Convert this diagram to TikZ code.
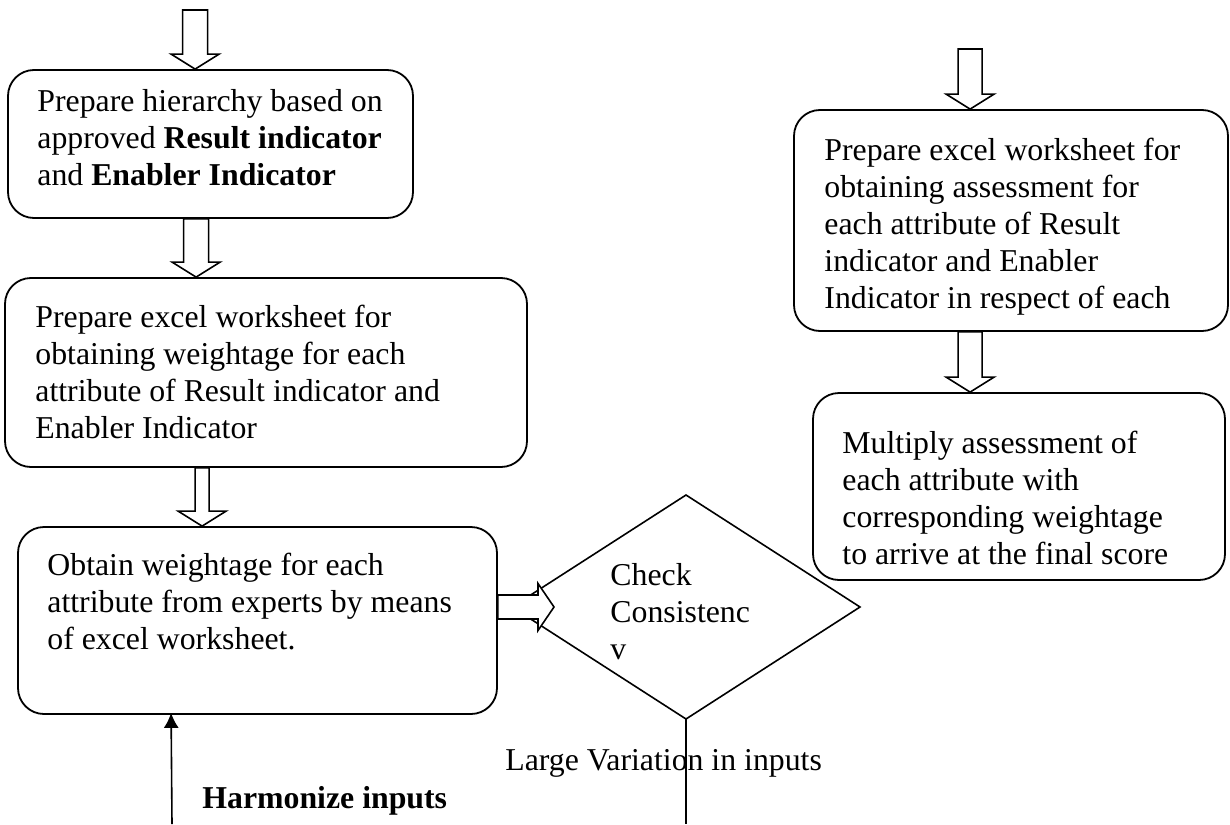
\documentclass[tikz,border=0pt]{standalone}
\usepackage{fontspec}
\setmainfont{Liberation Serif}
\usetikzlibrary{shapes.geometric,arrows.meta,calc,fit}

% hollow block arrows: shaft half width, top, tip
\newcommand\hollowdown[3]{%
  \draw[hollow] let \p1=(#2), \p2=(#3) in
    (\x2-#1,\y1) -- (\x2-#1,\y2+7.5pt) -- (\x2-12pt,\y2+7.5pt) -- (\x2,\y2)
    -- (\x2+12pt,\y2+7.5pt) -- (\x2+#1,\y2+7.5pt) -- (\x2+#1,\y1) -- cycle;}
\newcommand\hollowright[2]{%
  \draw[hollow] let \p1=(#1), \p2=(#2) in
    (\x1,\y2+6pt) -- (\x2-8pt,\y2+6pt) -- (\x2-8pt,\y2+11.75pt) -- (\x2,\y2)
    -- (\x2-8pt,\y2-11.75pt) -- (\x2-8pt,\y2-6pt) -- (\x1,\y2-6pt) -- cycle;}

\begin{document}
\begin{tikzpicture}[x=0.5pt,y=-0.5pt,
    flowbox/.style={draw,line width=0.9pt,rounded corners=13pt,inner sep=0pt},
    txt/.style={anchor=north west,align=left,inner sep=0pt,font=\fontsize{15.9}{18.5}\selectfont},
    hollow/.style={draw,fill=white,line width=0.8pt,line join=miter}]
  \useasboundingbox (0,0) rectangle (1230,824);

  % left column
  \node[flowbox,fit={(8,70) (413,218)}] (hier) {};
  \node[txt] (hier-t) at (37,89) {Prepare hierarchy based on\\approved \textbf{Result indicator}\\and \textbf{Enabler Indicator}};
  \node[flowbox,fit={(5,278) (527,467)}] (wsheet) {};
  \node[txt] (wsheet-t) at (35,305) {Prepare excel worksheet for\\obtaining weightage for each\\attribute of Result indicator and\\Enabler Indicator};
  \node[flowbox,fit={(18,527) (497,714)}] (obtain) {};
  \node[txt] (obtain-t) at (47,553) {Obtain weightage for each\\attribute from experts by means\\of excel worksheet.};

  % decision
  \node[diamond,draw,line width=0.8pt,minimum width=174pt,minimum height=112pt,inner sep=0pt,outer sep=0pt] (check) at (686,607) {};
  \node[txt] (check-t) at (610,563) {Check\\Consistenc\\v};

  % right column
  \node[flowbox,fit={(794,110) (1228,331)}] (assess) {};
  \node[txt] (assess-t) at (824,138) {Prepare excel worksheet for\\obtaining assessment for\\each attribute of Result\\indicator and Enabler\\Indicator in respect of each};
  \node[flowbox,fit={(813,393) (1225,580)}] (multiply) {};
  \node[txt] (multiply-t) at (842,431) {Multiply assessment of\\each attribute with\\corresponding weightage\\to arrive at the final score};

  \coordinate (startL) at (196,10);
  \coordinate (startR) at (971,49);
  \coordinate (bottomL) at (172,824);
  \coordinate (bottomR) at (686,824);

  \hollowdown{6.25pt}{startL}{$(hier.north west)+(188,0)$}
  \hollowdown{6.25pt}{$(hier.south west)+(189,0)$}{$(wsheet.north west)+(192,0)$}
  \hollowdown{3.5pt}{$(wsheet.south west)+(198,0)$}{$(obtain.north west)+(185,0)$}
  \hollowdown{6pt}{startR}{$(assess.north west)+(177,0)$}
  \hollowdown{6pt}{$(assess.south west)+(177,0)$}{$(multiply.north west)+(158,0)$}
  \hollowright{$(obtain.north east)+(0,82)$}{$(check.west)+(42,0)$}

  % loop back
  \draw[line width=0.8pt] (check.south) -- (bottomR);
  \draw[line width=0.8pt,shorten >=-1pt,-{Latex[length=7.5pt,width=7.5pt]}] (bottomL) -- ($(obtain.south west)+(154,0)$);
  \node[anchor=base west,inner sep=0pt,font=\fontsize{15.9}{18.5}\selectfont] (large) at (505,770) {Large Variation in inputs};
  \node[anchor=base west,inner sep=0pt,font=\fontsize{15.9}{18.5}\selectfont\bfseries] (harm) at (202,808) {Harmonize inputs};
\end{tikzpicture}
\end{document}
